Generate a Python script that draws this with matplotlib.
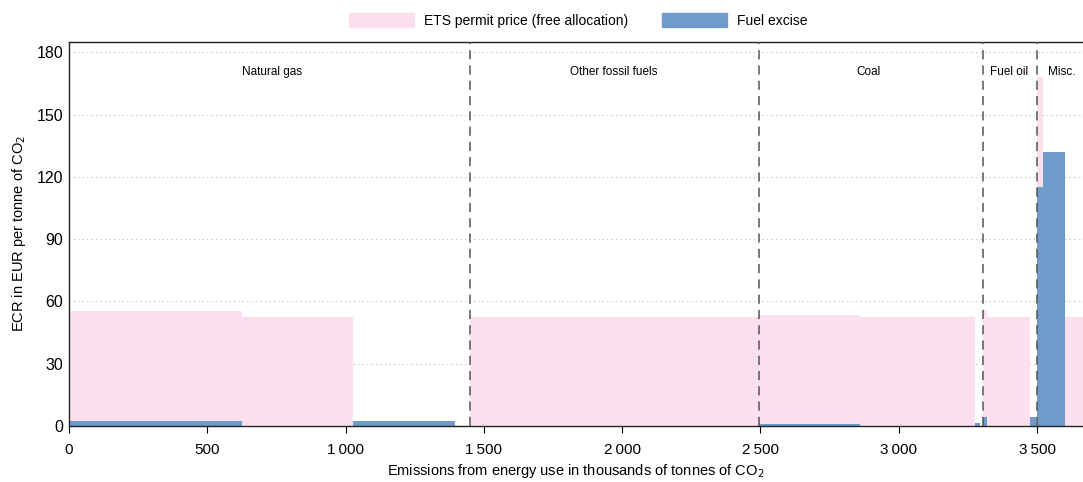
import matplotlib.pyplot as plt
from matplotlib.patches import Patch

plt.rcParams['font.family'] = ['Liberation Sans', 'DejaVu Sans']

# segments of the ECR profile (thousand tonnes CO2, EUR per tonne)
seg_left = [0, 625, 1025, 1450, 2493, 2860, 3275, 3305, 3320, 3475, 3500, 3520, 3600]
seg_right = [625, 1025, 1395, 2493, 2860, 3275, 3293, 3320, 3475, 3495, 3520, 3600, 3700]
excise = [2.5, 0, 2.5, 0, 1.2, 0, 1.5, 4.5, 0, 4.5, 115, 132, 0]
ets = [53.1, 52.5, 0, 52.5, 52.3, 52.5, 0, 51.5, 52.5, 0, 53, 0, 52.5]

dividers = [1450, 2493, 3305, 3500]
categories = ['Natural gas', 'Other fossil fuels', 'Coal', 'Fuel oil', 'Misc.']
cat_x = [734, 1970, 2890, 3400, 3590]

xticks = [0, 500, 1000, 1500, 2000, 2500, 3000, 3500]
xticklabels = ['0', '500', '1\u2009000', '1\u2009500', '2\u2009000', '2\u2009500', '3\u2009000', '3\u2009500']
yticks = [0, 30, 60, 90, 120, 150, 180]

pink = '#fde0ef'
blue = '#6f9bcb'

fig = plt.figure(figsize=(10.83, 4.82), dpi=100)
ax = fig.add_axes([0.0637, 0.116, 0.9363, 0.797])

widths = [r - l for l, r in zip(seg_left, seg_right)]
ax.bar(seg_left, excise, width=widths, align='edge', color=blue, linewidth=0, zorder=2)
ax.bar(seg_left, ets, width=widths, bottom=excise, align='edge', color=pink, linewidth=0, zorder=2)

for d in dividers:
    ax.axvline(d, color='#555555', linestyle=(0, (6, 4)), linewidth=1.1, zorder=3)

for name, x in zip(categories, cat_x):
    ax.text(x, 170.5, name, ha='center', va='center', fontsize=8.5)

ax.set_xlim(0, 3666)
ax.set_ylim(0, 185)
ax.set_xticks(xticks)
ax.set_xticklabels(xticklabels)
ax.set_yticks(yticks)
ax.tick_params(axis='x', direction='out', length=5, labelsize=11, pad=7)
ax.tick_params(axis='y', length=0, labelsize=11.5, pad=4)
ax.yaxis.grid(True, linestyle=(0, (1, 3)), color='#bbbbbb', linewidth=0.8, zorder=0)
ax.set_axisbelow(True)
ax.spines['right'].set_visible(False)
for s in ['left', 'bottom', 'top']:
    ax.spines[s].set_color('#222222')
    ax.spines[s].set_linewidth(1.0)

ax.set_xlabel('Emissions from energy use in thousands of tonnes of CO$_2$', fontsize=10.5, labelpad=4)
ax.set_ylabel('ECR in EUR per tonne of CO$_2$', fontsize=10.5, labelpad=6)

handles = [Patch(color=pink, label='ETS permit price (free allocation)'),
           Patch(color=blue, label='Fuel excise')]
fig.legend(handles=handles, loc='center', bbox_to_anchor=(0.534, 0.958), ncol=2,
           frameon=False, fontsize=10, handlelength=4.7, handleheight=1.15,
           columnspacing=2.4, handletextpad=0.75)

fig.savefig('out.png', dpi=100)
